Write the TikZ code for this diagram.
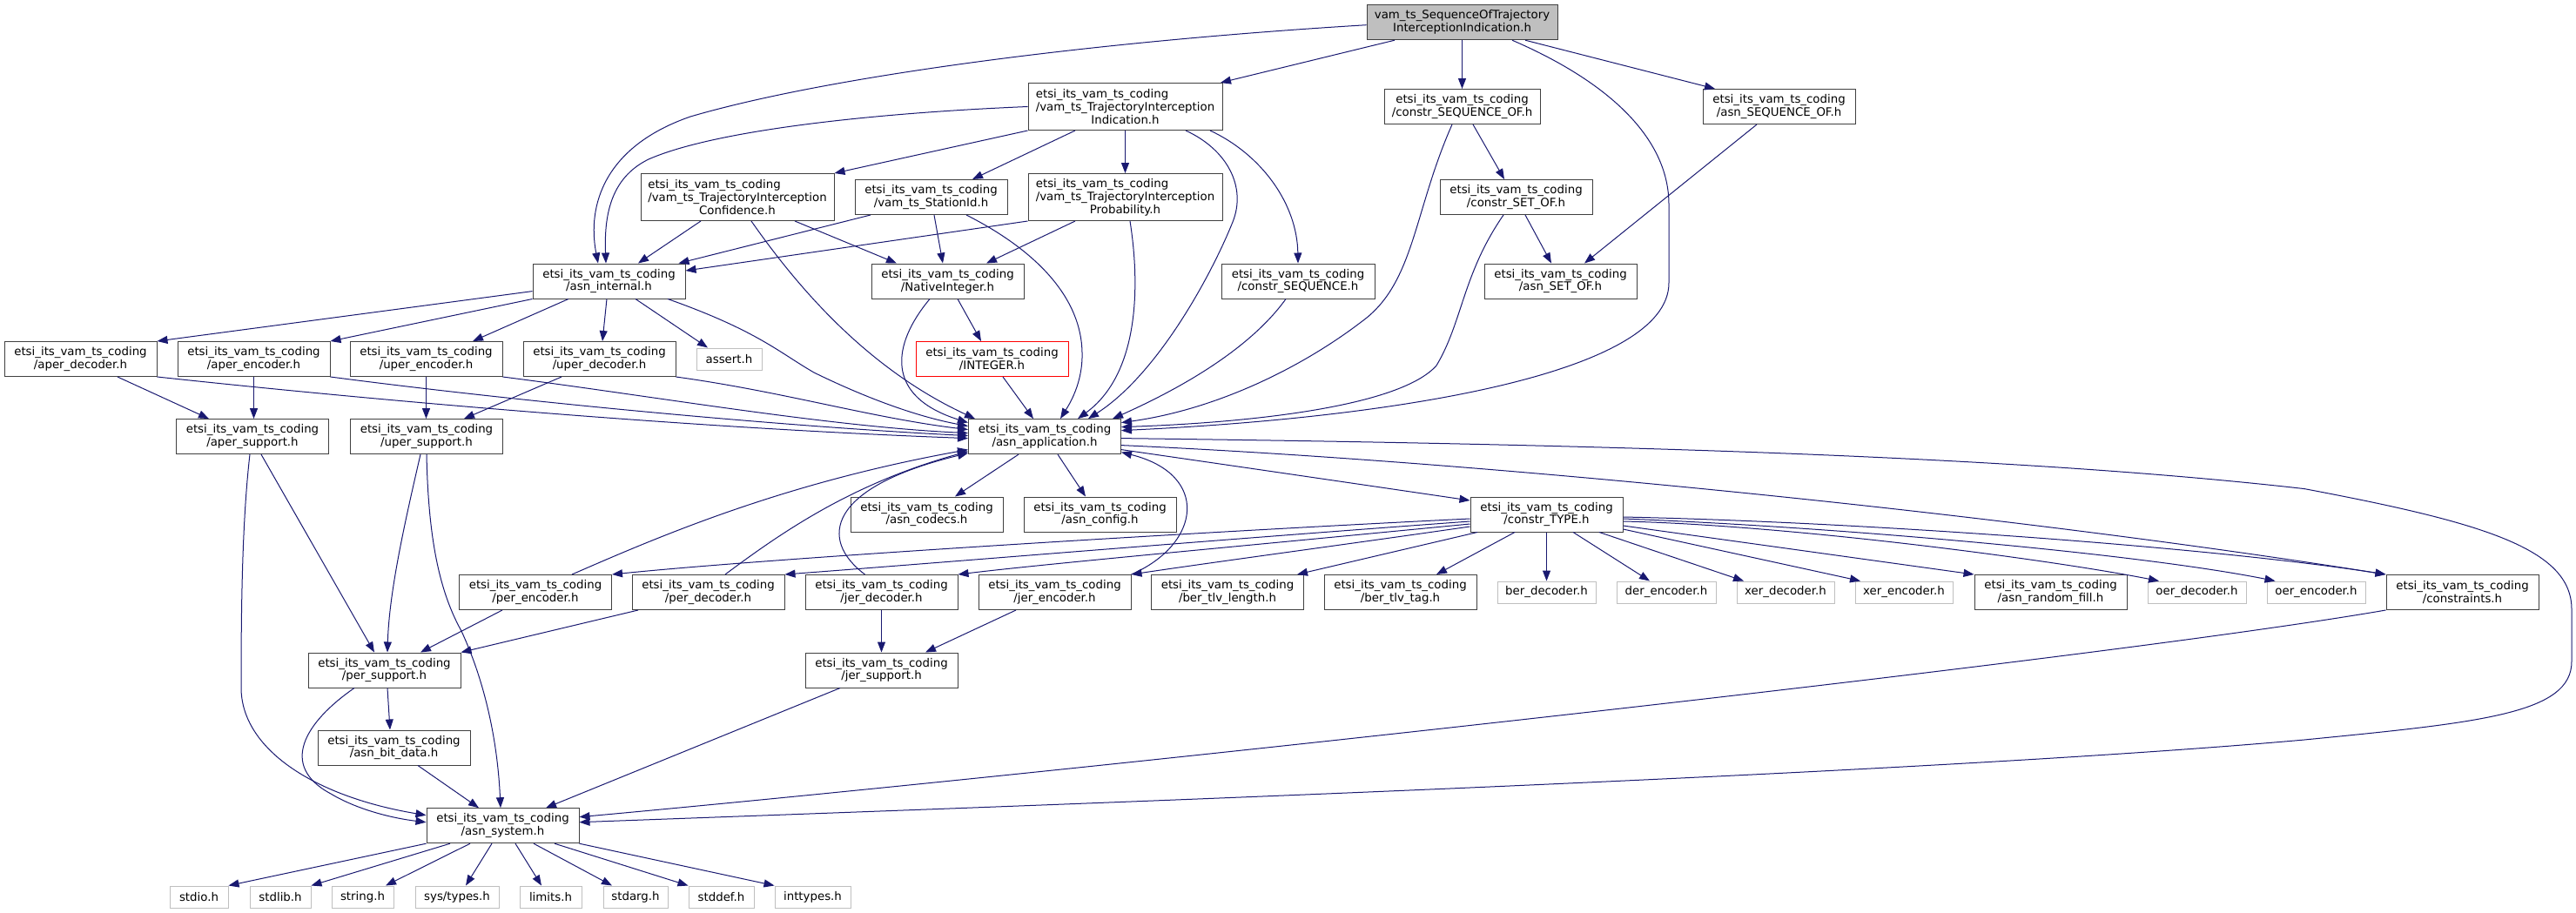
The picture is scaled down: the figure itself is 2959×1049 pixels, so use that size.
\documentclass[tikz,border=0pt]{standalone}
\usepackage{fontspec}
\setmainfont{DejaVu Sans}
\usetikzlibrary{arrows.meta}
\definecolor{edgec}{HTML}{191970}
\definecolor{boxc}{HTML}{404040}
\definecolor{sysc}{HTML}{BFBFBF}
\definecolor{rootc}{HTML}{BFBFBF}
\newcommand{\threeln}[3]{\rlap{#1}\phantom{#2}\\#2\\#3}
\newcommand{\etsiname}{etsi\_its\_vam\_ts\_coding}
\begin{document}
\begin{tikzpicture}[x=1pt,y=-1pt,
  box/.style={draw=boxc, line width=1pt, fill=white, minimum width=175pt, minimum height=40pt,
    inner sep=0pt, align=center, font=\fontsize{13.33}{14.9}\selectfont},
  tribox/.style={box, minimum width=223pt, minimum height=54pt},
  sysbox/.style={box, draw=sysc, minimum height=25pt},
  e/.style={draw=edgec, line width=1pt, -{Triangle[length=12pt,width=9pt]}}]
\useasboundingbox (0,0) rectangle (2959,1049);
% ---------- nodes ----------
\node[box, fill=rootc, minimum width=219pt] (root) at (1679.5,25.7) {vam\_ts\_SequenceOfTrajectory\\InterceptionIndication.h};
\node[tribox] (tii) at (1292.5,122.5) {\threeln{\etsiname}{/vam\_ts\_TrajectoryInterception}{Indication.h}};
\node[box, minimum width=179pt] (cso) at (1679.5,122.5) {\etsiname\\/constr\_SEQUENCE\_OF.h};
\node[box] (aso) at (2043.5,122.5) {\etsiname\\/asn\_SEQUENCE\_OF.h};
\node[tribox, minimum width=222pt] (tic) at (847,226.5) {\threeln{\etsiname}{/vam\_ts\_TrajectoryInterception}{Confidence.h}};
\node[box] (sid) at (1069.5,226.5) {\etsiname\\/vam\_ts\_StationId.h};
\node[tribox] (tip) at (1292.5,226.5) {\threeln{\etsiname}{/vam\_ts\_TrajectoryInterception}{Probability.h}};
\node[box] (cseto) at (1741.5,226.5) {\etsiname\\/constr\_SET\_OF.h};
\node[box] (aint) at (699.5,323) {\etsiname\\/asn\_internal.h};
\node[box] (nint) at (1088.5,323) {\etsiname\\/NativeInteger.h};
\node[box, minimum width=176pt] (cseq) at (1491,323) {\etsiname\\/constr\_SEQUENCE.h};
\node[box] (aseto) at (1792.5,323) {\etsiname\\/asn\_SET\_OF.h};
\node[box] (aperd) at (92.5,412.5) {\etsiname\\/aper\_decoder.h};
\node[box] (apere) at (291.5,412.5) {\etsiname\\/aper\_encoder.h};
\node[box] (upere) at (489.5,412.5) {\etsiname\\/uper\_encoder.h};
\node[box] (uperd) at (688.5,412.5) {\etsiname\\/uper\_decoder.h};
\node[sysbox, minimum width=75pt] (assert) at (837.5,412.5) {assert.h};
\node[box, draw=red] (integer) at (1139.5,412.5) {\etsiname\\/INTEGER.h};
\node[box] (apers) at (290,501.6) {\etsiname\\/aper\_support.h};
\node[box] (upers) at (490,501.6) {\etsiname\\/uper\_support.h};
\node[box] (app) at (1200,501.6) {\etsiname\\/asn\_application.h};
\node[box] (codecs) at (1064.5,591) {\etsiname\\/asn\_codecs.h};
\node[box] (config) at (1263.5,591) {\etsiname\\/asn\_config.h};
\node[box] (ctype) at (1776.5,591) {\etsiname\\/constr\_TYPE.h};
\node[box] (pere) at (615,680.5) {\etsiname\\/per\_encoder.h};
\node[box] (perd) at (813.5,680.5) {\etsiname\\/per\_decoder.h};
\node[box] (jerd) at (1012.5,680.5) {\etsiname\\/jer\_decoder.h};
\node[box] (jere) at (1211.5,680.5) {\etsiname\\/jer\_encoder.h};
\node[box] (btl) at (1410,680.5) {\etsiname\\/ber\_tlv\_length.h};
\node[box] (btt) at (1608.5,680.5) {\etsiname\\/ber\_tlv\_tag.h};
\node[sysbox, minimum width=113pt] (berd) at (1776.5,680.5) {ber\_decoder.h};
\node[sysbox, minimum width=114pt] (dere) at (1914,680.5) {der\_encoder.h};
\node[sysbox, minimum width=112pt] (xerd) at (2051,680.5) {xer\_decoder.h};
\node[sysbox, minimum width=112pt] (xere) at (2187,680.5) {xer\_encoder.h};
\node[box] (arf) at (2355.5,680.5) {\etsiname\\/asn\_random\_fill.h};
\node[sysbox, minimum width=113pt] (oerd) at (2523.5,680.5) {oer\_decoder.h};
\node[sysbox, minimum width=113pt] (oere) at (2660.5,680.5) {oer\_encoder.h};
\node[box] (cons) at (2828.5,680.5) {\etsiname\\/constraints.h};
\node[box] (pers) at (441.5,770) {\etsiname\\/per\_support.h};
\node[box] (jers) at (1012.5,770) {\etsiname\\/jer\_support.h};
\node[box] (abd) at (452.5,859) {\etsiname\\/asn\_bit\_data.h};
\node[box] (asys) at (577.5,948.7) {\etsiname\\/asn\_system.h};
\node[sysbox, minimum width=67pt] (stdio) at (228.5,1030.5) {stdio.h};
\node[sysbox, minimum width=70pt] (stdlib) at (322,1030.5) {stdlib.h};
\node[sysbox, minimum width=71pt] (string) at (416.5,1030.5) {string.h};
\node[sysbox, minimum width=96pt] (systypes) at (525,1030.5) {sys/types.h};
\node[sysbox, minimum width=71pt] (limits) at (632.5,1030.5) {limits.h};
\node[sysbox, minimum width=74pt] (stdarg) at (730,1030.5) {stdarg.h};
\node[sysbox, minimum width=75pt] (stddef) at (828.5,1030.5) {stddef.h};
\node[sysbox, minimum width=87pt] (inttypes) at (933.5,1030.5) {inttypes.h};
% ---------- edges ----------
% root
\draw[e] ([yshift=-3pt]root.west) .. controls (1250,48) and (950,88) .. (793,134) .. controls (695,168) and (674,235) .. ([xshift=-12.5pt]aint.north);
\draw[e] ([xshift=-77.5pt]root.south) -- ([xshift=109.5pt]tii.north);
\draw[e] (root.south) -- (cso.north);
\draw[e] ([xshift=72.5pt]root.south) -- ([xshift=-73.5pt]aso.north);
\draw[e] ([xshift=57.5pt]root.south) .. controls (1850,95) and (1917,160) .. (1917,235) -- (1917,325) .. controls (1917,430) and (1600,480) .. ([yshift=7pt]app.east);
% TrajectoryInterceptionIndication
\draw[e] (tii.west) .. controls (1000,130) and (820,150) .. (745,183) .. controls (700,205) and (694,250) .. ([xshift=-3.5pt]aint.north);
\draw[e] (tii.south west) -- (tic.north east);
\draw[e] ([xshift=-57.5pt]tii.south) -- ([xshift=47.5pt]sid.north);
\draw[e] (tii.south) -- (tip.north);
\draw[e] ([xshift=69.5pt]tii.south) .. controls (1410,172) and (1432,215) .. (1416,255) .. controls (1392,315) and (1330,430) .. ([xshift=50pt]app.north);
\draw[e] ([xshift=97.5pt]tii.south) .. controls (1450,178) and (1490,235) .. (cseq.north);
% Confidence
\draw[e] ([xshift=-42pt]tic.south) -- ([xshift=33.5pt]aint.north);
\draw[e] ([xshift=16pt]tic.south) .. controls (930,350) and (1010,430) .. ([xshift=-80pt]app.north);
\draw[e] ([xshift=66pt]tic.south) -- ([xshift=-58.5pt]nint.north);
% StationId
\draw[e] ([xshift=-69.5pt]sid.south) -- ([xshift=80pt]aint.north);
\draw[e] ([xshift=3.5pt]sid.south) -- ([xshift=-5.5pt]nint.north);
\draw[e] ([xshift=40.5pt]sid.south) .. controls (1195,290) and (1242,345) .. (1243,405) .. controls (1244,440) and (1228,465) .. ([xshift=18pt]app.north);
% Probability
\draw[e] (tip.south west) -- ([yshift=12pt]aint.east);
\draw[e] ([xshift=-57.5pt]tip.south) -- ([xshift=44.5pt]nint.north);
\draw[e] ([xshift=5.5pt]tip.south) .. controls (1310,330) and (1308,430) .. ([xshift=38pt]app.north);
% constr_SEQUENCE_OF, constr_SET_OF, asn_SEQUENCE_OF
\draw[e] ([xshift=12.5pt]cso.south) -- ([xshift=-13.5pt]cseto.north);
\draw[e] ([xshift=-11.5pt]cso.south) .. controls (1625,240) and (1625,320) .. (1570,365) .. controls (1500,420) and (1400,470) .. ([yshift=16pt]app.east);
\draw[e] ([xshift=10.5pt]cseto.south) -- ([xshift=-10.5pt]aseto.north);
\draw[e] ([xshift=-14.5pt]cseto.south) .. controls (1680,315) and (1680,370) .. (1650,420) .. controls (1610,465) and (1450,485) .. ([yshift=11pt]app.east);
\draw[e] ([xshift=-25.5pt]aso.south) -- ([xshift=27.5pt]aseto.north);
\draw[e] ([xshift=-14pt]cseq.south) .. controls (1440,395) and (1370,440) .. ([xshift=78pt]app.north);
% NativeInteger, INTEGER
\draw[e] ([xshift=11.5pt]nint.south) -- ([xshift=-12.5pt]integer.north);
\draw[e] ([xshift=-20.5pt]nint.south) .. controls (1025,395) and (1015,455) .. ([yshift=16pt]app.west);
\draw[e] ([xshift=12.5pt]integer.south) -- ([xshift=-13pt]app.north);
% asn_internal
\draw[e] ([yshift=-11.6pt]aint.west) -- (aperd.north east);
\draw[e] (aint.south west) -- (apere.north east);
\draw[e] ([xshift=-46.5pt]aint.south) -- ([xshift=53.5pt]upere.north);
\draw[e] ([xshift=-2.5pt]aint.south) -- ([xshift=3.5pt]uperd.north);
\draw[e] ([xshift=30.5pt]aint.south) -- ([xshift=-24.5pt]assert.north);
\draw[e] ([xshift=67.5pt]aint.south) .. controls (870,380) and (895,405) .. (935,428) .. controls (990,455) and (1050,478) .. ([yshift=12pt]app.west);
% aper / uper
\draw[e] ([xshift=42.5pt]aperd.south) -- ([xshift=-50pt]apers.north);
\draw[e] (aperd.south east) .. controls (450,462) and (800,492) .. ([yshift=-2pt]app.west);
\draw[e] (apere.south) -- ([xshift=1.5pt]apers.north);
\draw[e] (apere.south east) .. controls (600,462) and (900,490) .. ([yshift=1pt]app.west);
\draw[e] (upere.south) -- ([xshift=-0.5pt]upers.north);
\draw[e] (upere.south east) .. controls (750,455) and (950,490) .. ([yshift=4pt]app.west);
\draw[e] ([xshift=-43.5pt]uperd.south) -- ([xshift=43pt]upers.north);
\draw[e] (uperd.south east) .. controls (900,450) and (1000,480) .. ([yshift=8pt]app.west);
% supports
\draw[e] ([xshift=10pt]apers.south) -- ([xshift=-11.5pt]pers.north);
\draw[e] ([xshift=-3pt]apers.south) .. controls (278,600) and (277,700) .. (277,790) .. controls (277,860) and (360,915) .. ([yshift=12pt]asys.west);
\draw[e] ([xshift=-7pt]upers.south) .. controls (465,600) and (447,680) .. ([xshift=3.5pt]pers.north);
\draw[e] (upers.south) .. controls (492,620) and (505,680) .. (530,725) .. controls (560,790) and (572,860) .. ([xshift=-2.5pt]asys.north);
\draw[e] ([xshift=-38pt]pere.south) -- ([xshift=41.5pt]pers.north);
\draw[e] ([xshift=-80.5pt]perd.south) -- (pers.north east);
\draw[e] ([xshift=3.5pt]pers.south) -- ([xshift=-4.5pt]abd.north);
\draw[e] ([xshift=-34.5pt]pers.south) .. controls (350,830) and (320,880) .. (380,912) .. controls (410,930) and (450,940) .. ([yshift=4pt]asys.west);
\draw[e] ([xshift=27.5pt]abd.south) -- ([xshift=-27.5pt]asys.north);
\draw[e] ([xshift=-47.5pt]jers.south) -- ([xshift=49.5pt]asys.north);
% asn_system
\draw[e] (asys.south west) -- (stdio.north east);
\draw[e] ([xshift=-60.5pt]asys.south) -- (stdlib.north east);
\draw[e] ([xshift=-37.5pt]asys.south) -- ([xshift=26.5pt]string.north);
\draw[e] ([xshift=-12.5pt]asys.south) -- ([xshift=10pt]systypes.north);
\draw[e] ([xshift=14.5pt]asys.south) -- ([xshift=-10.5pt]limits.north);
\draw[e] ([xshift=35.5pt]asys.south) -- ([xshift=-27pt]stdarg.north);
\draw[e] ([xshift=59.5pt]asys.south) -- (stddef.north west);
\draw[e] (asys.south east) -- (inttypes.north west);
% asn_application
\draw[e] ([xshift=-30pt]app.south) -- ([xshift=32.5pt]codecs.north);
\draw[e] ([xshift=15pt]app.south) -- ([xshift=-16.5pt]config.north);
\draw[e] ([yshift=-15pt]app.east) .. controls (1450,540) and (1600,562) .. ([yshift=16pt]ctype.west);
\draw[e] ([yshift=-2pt]app.east) .. controls (1800,510) and (2300,522) .. (2647,561.6) .. controls (2850,600) and (2954,630) .. (2954,700) -- (2954,760) .. controls (2954,820) and (2850,830) .. (2647,850) .. controls (2200,890) and (1200,925) .. ([yshift=4pt]asys.east);
\draw[e] ([yshift=-10pt]app.east) .. controls (1700,530) and (2300,590) .. (cons.north west);
% constr_TYPE
\draw[e] ([yshift=-3pt]ctype.east) .. controls (2150,600) and (2550,630) .. (cons.north west);
\draw[e] ([yshift=-5pt]ctype.east) .. controls (2100,605) and (2450,635) .. ([xshift=-47pt]oere.north);
\draw[e] ([yshift=-8pt]ctype.east) .. controls (2050,603) and (2350,642) .. ([xshift=-43.5pt]oerd.north);
\draw[e] ([yshift=-13pt]ctype.east) -- (arf.north west);
\draw[e] ([yshift=-17pt]ctype.east) -- ([xshift=-50pt]xere.north);
\draw[e] ([xshift=60.5pt]ctype.south) -- ([xshift=-48pt]xerd.north);
\draw[e] ([xshift=30.5pt]ctype.south) -- ([xshift=-19pt]dere.north);
\draw[e] (ctype.south) -- (berd.north);
\draw[e] ([xshift=-36.5pt]ctype.south) -- ([xshift=41.5pt]btt.north);
\draw[e] ([xshift=-79.5pt]ctype.south) -- ([xshift=80pt]btl.north);
\draw[e] ([yshift=-5pt]ctype.west) .. controls (1400,610) and (900,640) .. (pere.north east);
\draw[e] ([yshift=-8pt]ctype.west) .. controls (1400,620) and (1100,645) .. (perd.north east);
\draw[e] ([yshift=-11pt]ctype.west) .. controls (1400,630) and (1200,648) .. (jerd.north east);
\draw[e] ([yshift=-14pt]ctype.west) .. controls (1550,625) and (1400,645) .. (jere.north east);
% per / jer back to asn_application
\draw[e] ([xshift=42pt]pere.north) .. controls (760,615) and (900,555) .. ([yshift=-15pt]app.west);
\draw[e] ([xshift=19.5pt]perd.north) .. controls (900,610) and (980,555) .. ([yshift=-17pt]app.west);
\draw[e] ([xshift=-19pt]jerd.north) .. controls (940,620) and (950,560) .. ([yshift=-19pt]app.west);
\draw[e] (jere.north east) .. controls (1380,625) and (1390,545) .. ([yshift=-18pt]app.east);
\draw[e] (jerd.south) -- (jers.north);
\draw[e] ([xshift=-44.5pt]jere.south) -- ([xshift=50.5pt]jers.north);
\draw[e] (cons.south west) .. controls (2400,760) and (1200,890) .. ([yshift=10pt]asys.east);
\end{tikzpicture}
\end{document}
